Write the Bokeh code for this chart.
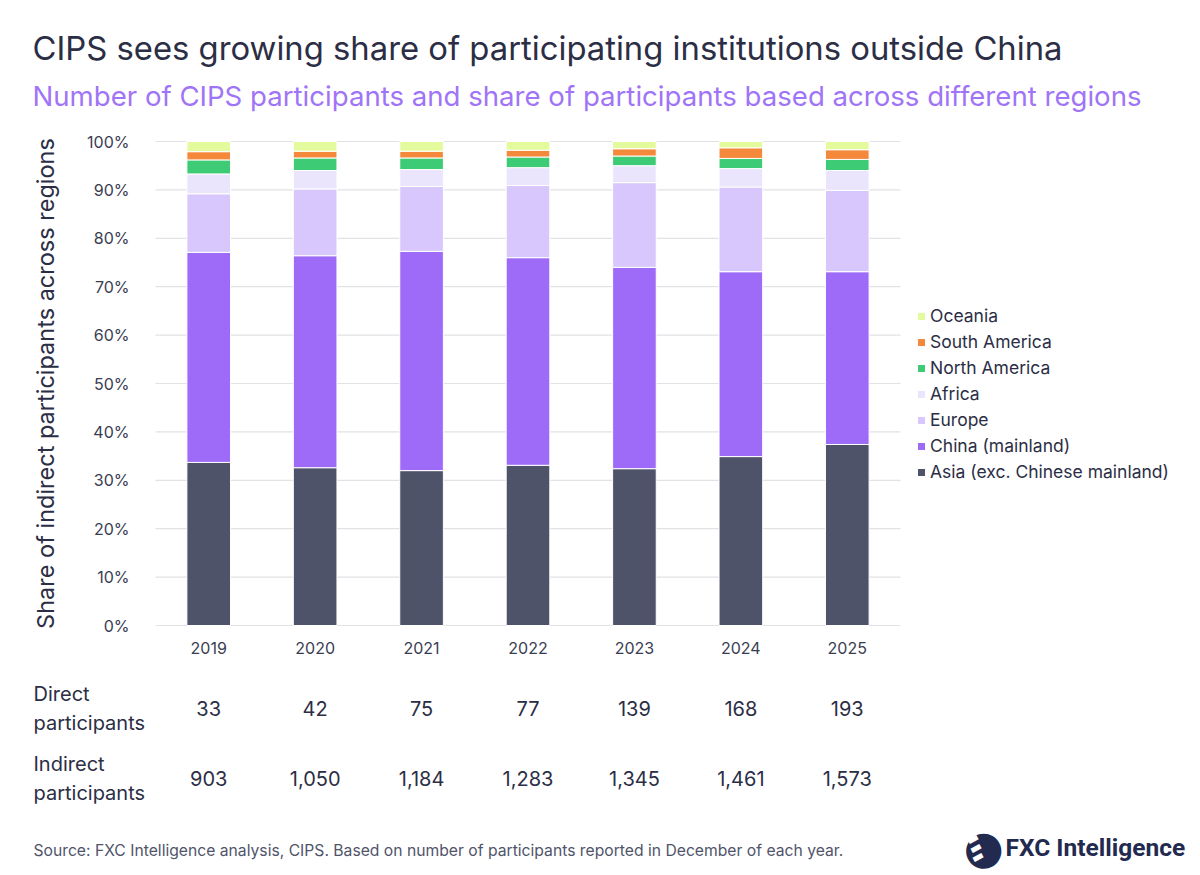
from bokeh.plotting import figure
from bokeh.models import (ColumnDataSource, Range1d, Label, LabelSet, Legend, LegendItem,
                          FixedTicker)
from bokeh.core.properties import value
from bokeh.embed import file_html
from bokeh.resources import INLINE

years = ["2019", "2020", "2021", "2022", "2023", "2024", "2025"]
asia = [33.7, 32.6, 32.0, 33.1, 32.4, 34.9, 37.4]
china = [43.4, 43.8, 45.3, 42.9, 41.6, 38.2, 35.7]
europe = [12.1, 13.8, 13.4, 14.9, 17.5, 17.5, 16.8]
africa = [4.1, 3.8, 3.5, 3.7, 3.5, 3.8, 4.1]
north_america = [2.9, 2.6, 2.4, 2.2, 2.0, 2.1, 2.3]
south_america = [1.7, 1.4, 1.4, 1.4, 1.5, 2.2, 2.0]
oceania = [2.1, 2.0, 2.0, 1.8, 1.5, 1.3, 1.7]
direct = ["33", "42", "75", "77", "139", "168", "193"]
indirect = ["903", "1,050", "1,184", "1,283", "1,345", "1,461", "1,573"]
y_ticks = list(range(0, 101, 10))

series = ["asia", "china", "europe", "africa", "north_america", "south_america", "oceania"]
names = ["Asia (exc. Chinese mainland)", "China (mainland)", "Europe", "Africa",
         "North America", "South America", "Oceania"]
colors = ["#4f5369", "#9d6bf7", "#d8c7fc", "#ebe4fd", "#3ecb76", "#f5893b", "#e3fb9d"]

FONT = "Inter"
DARK = "#2b2e45"
W, H = 1200, 875

# layout of the plotting area on the canvas (pixels)
FL, FR, FT, FB = 155, 900, 141, 625
n = len(years)
xpx = (FR - FL) / n          # pixels per category
ypx = (FB - FT) / 100.0      # pixels per percent
x_start = -0.5 - FL / xpx
y_start = -(H - FB) / ypx

idx = list(range(n))
src = ColumnDataSource(dict(x=idx, year=years, asia=asia, china=china, europe=europe,
                            africa=africa, north_america=north_america,
                            south_america=south_america, oceania=oceania,
                            direct=direct, indirect=indirect))

p = figure(width=W, height=H,
           x_range=Range1d(x_start, x_start + W / xpx),
           y_range=Range1d(y_start, y_start + H / ypx),
           output_backend="svg", toolbar_location=None,
           min_border=0, min_border_left=0, min_border_right=0,
           min_border_top=0, min_border_bottom=0)
p.outline_line_color = None
p.background_fill_color = "white"
p.border_fill_color = "white"
p.xgrid.grid_line_color = None
p.ygrid.grid_line_color = None

# horizontal grid lines limited to the plotting area
p.segment(x0=[-0.5] * len(y_ticks), x1=[n - 0.5] * len(y_ticks), y0=y_ticks, y1=y_ticks,
          line_color="#e2e2e6", line_width=1.2)

rs = p.vbar_stack(series, x="x", width=0.41, source=src, color=colors,
                  line_color="white", line_width=1)

p.yaxis.ticker = FixedTicker(ticks=y_ticks)
p.yaxis.major_label_overrides = {v: f"{v}%" for v in y_ticks}
p.yaxis.fixed_location = -0.5
p.yaxis.bounds = (0, 100)
p.xaxis.ticker = FixedTicker(ticks=idx)
p.xaxis.major_label_overrides = {i: y for i, y in zip(idx, years)}
p.xaxis.fixed_location = 0
p.xaxis.bounds = (-0.5, n - 0.5)
for ax in (p.xaxis[0], p.yaxis[0]):
    ax.axis_line_color = None
    ax.major_tick_line_color = None
    ax.minor_tick_line_color = None
    ax.major_label_text_font = FONT
    ax.major_label_text_font_size = "16px"
    ax.major_label_text_color = "#3a3d52"
p.yaxis.major_label_standoff = 20
p.xaxis.major_label_standoff = 10
p.yaxis.axis_label = "Share of indirect participants across regions"
p.yaxis.axis_label_text_font = FONT
p.yaxis.axis_label_text_font_size = "23.5px"
p.yaxis.axis_label_text_font_style = "normal"
p.yaxis.axis_label_text_color = DARK
p.yaxis.axis_label_standoff = 24

items = [LegendItem(label=nm, renderers=[r]) for nm, r in zip(names, rs)][::-1]
legend = Legend(items=items, location=(916, H - 482), padding=0, margin=0, spacing=5,
                glyph_width=10, glyph_height=10, label_height=20, label_standoff=4,
                label_text_font=FONT, label_text_font_size="17.5px", label_text_color=DARK,
                border_line_color=None, background_fill_alpha=0)
p.add_layout(legend, "center")


def lab(text, X, Y, size, color=DARK, style="normal", align="left", font=FONT, angle=0.0):
    p.add_layout(Label(x=X, y=H - Y, x_units="screen", y_units="screen", text=text,
                       text_font=font, text_font_size=size, text_color=color,
                       text_font_style=style, text_align=align, text_baseline="middle",
                       angle=angle))


lab("CIPS sees growing share of participating institutions outside China", 32, 47, "32.8px")
lab("Number of CIPS participants and share of participants based across different regions",
    32, 95, "27.6px", color="#9f74f7")
lab("Direct", 33, 693, "20px")
lab("participants", 33, 722, "20px")
lab("Indirect", 33, 763, "20px")
lab("participants", 33, 792, "20px")
lab("Source: FXC Intelligence analysis, CIPS. Based on number of participants reported in December of each year.",
    33, 850, "15.7px", color="#50546a")
# logo
lab("\u25CF", 983, 846, "46px", color="#232a4f", align="center", font="DejaVu Sans")
for sx, sy in ((972, 838), (975, 847), (977, 856)):
    lab("\u25AC", sx, sy, "13px", color="white", align="center", font="DejaVu Sans", angle=0.5)
lab("FXC Intelligence", 1005, 847, "24.5px", color="#232a4f", style="bold", font="Roboto")

for col, Y in (("direct", 708), ("indirect", 778)):
    p.add_layout(LabelSet(x="x", y=H - Y, y_units="screen", text=col, source=src,
                          text_font=value(FONT), text_font_size=value("20px"),
                          text_color=DARK, text_align="center", text_baseline="middle"))

open("out.html", "w").write(file_html(p, INLINE))
